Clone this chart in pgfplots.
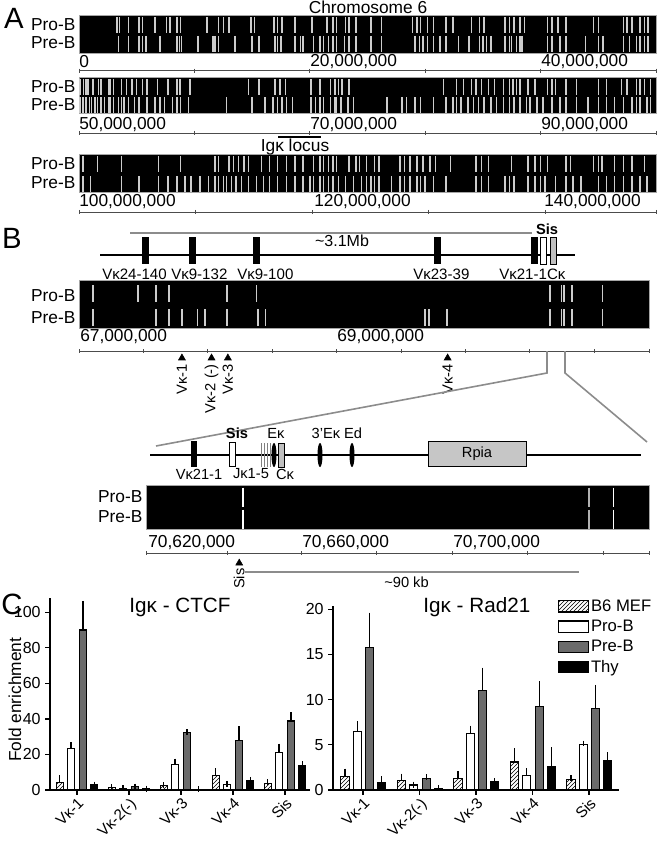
\documentclass[border=0pt]{standalone}
\usepackage{fontspec}
\setmainfont{Liberation Sans}
\usepackage{pgfplots}
\pgfplotsset{compat=1.18}
\usetikzlibrary{patterns}

\definecolor{preb}{gray}{0.42}
\definecolor{trk}{gray}{0.80}
\definecolor{gl}{gray}{0.55}
\newcommand{\fs}[1]{\fontsize{#1}{#1}\selectfont}

\pgfplotsset{
  trackax/.style={scale only axis, anchor=north west,
    axis background/.style={fill=black},
    axis line style={draw=gray!70, line width=0.5pt},
    xtick=\empty, ytick=\empty, ymin=0, ymax=2, clip=false},
  rowp/.style={only marks, mark=|, mark size=#1, color=trk, mark options={line width=1.1pt}},
  errs/.style={error bars/.cd, y dir=plus, y explicit,
    error bar style={line width=0.9pt, black},
    error mark options={line width=0.9pt, mark size=2.2pt, black}},
  barax/.style={scale only axis, anchor=north west, ybar, clip=false,
    axis lines*=left, axis line style={line width=1pt},
    tick align=outside, major tick length=3.5pt,
    every tick/.style={line width=1pt, black},
    xtick={0,...,4},
    xticklabels={Vκ-1, Vκ-2(-), Vκ-3, Vκ-4, Sis},
    xticklabel style={rotate=45, anchor=north east, font=\fs{11.5}, inner sep=1pt},
    yticklabel style={font=\fs{12}},
    /pgf/number format/assume math mode=true,
    ymin=0},
  pmef/.style={draw=black, fill=white, line width=0.8pt, pattern=north east lines},
  ppro/.style={draw=black, fill=white, line width=0.8pt},
  ppre/.style={draw=black, fill=preb, line width=0.8pt},
  pthy/.style={draw=black, fill=black, line width=0.8pt},
}

\begin{document}
\begin{tikzpicture}
\useasboundingbox (0,0) rectangle (495.75pt,-630.75pt);

% ================= Panel A tracks =================
\begin{axis}[trackax, at={(59.25pt,-11.25pt)}, width=432.75pt, height=28.5pt, xmin=0, xmax=50]
\addplot[rowp=6pt] table[row sep=\\, y expr=1.46] {x\\3.3\\3.5\\4.3\\5.2\\5.5\\6.6\\7.6\\7.9\\8.5\\8.8\\11.1\\12.1\\12.5\\13.0\\14.9\\15.2\\16.9\\17.2\\17.6\\18.7\\20.2\\21.5\\22.0\\22.3\\23.1\\23.4\\24.0\\25.3\\26.2\\28.9\\29.3\\29.6\\30.2\\30.7\\31.8\\32.4\\34.0\\34.7\\35.1\\36.9\\37.3\\37.7\\38.2\\38.6\\40.6\\41.0\\41.5\\42.2\\44.6\\45.0\\47.2\\47.5\\47.9\\48.6\\49.0\\49.3\\};
\addplot[rowp=6pt] table[row sep=\\, y expr=0.48] {x\\3.4\\4.3\\5.2\\5.5\\5.8\\7.0\\8.5\\8.7\\8.9\\10.3\\11.6\\11.8\\12.1\\13.5\\15.0\\15.6\\17.0\\17.2\\17.5\\18.7\\19.2\\19.4\\20.3\\20.9\\21.2\\21.6\\22.0\\22.3\\23.0\\23.4\\24.0\\25.3\\26.2\\29.1\\29.5\\29.8\\30.2\\30.7\\31.3\\31.8\\32.9\\33.8\\34.7\\35.0\\35.3\\35.7\\36.9\\37.3\\37.5\\37.9\\38.2\\38.4\\40.6\\41.0\\41.7\\42.2\\43.9\\45.0\\45.4\\47.2\\47.7\\48.3\\48.6\\49.0\\49.3\\};
\end{axis}

\begin{axis}[trackax, at={(59.25pt,-57.75pt)}, width=432.75pt, height=27pt, xmin=50, xmax=100]
\addplot[rowp=5.8pt] table[row sep=\\, y expr=1.45] {x\\50.1\\50.4\\50.6\\50.8\\51.2\\51.7\\51.9\\52.6\\52.7\\53.0\\53.7\\54.1\\54.6\\55.0\\55.5\\55.9\\56.8\\57.7\\58.5\\58.7\\58.8\\59.6\\64.7\\65.6\\67.0\\67.4\\67.9\\70.1\\70.9\\71.8\\72.2\\72.5\\72.8\\73.4\\81.6\\82.7\\83.3\\84.0\\84.4\\84.9\\85.5\\86.0\\86.8\\87.3\\87.6\\87.9\\88.2\\88.9\\89.5\\90.6\\91.0\\91.3\\92.2\\93.1\\95.0\\95.7\\97.0\\97.5\\98.3\\98.6\\99.0\\99.5\\};
\addplot[rowp=5.8pt] table[row sep=\\, y expr=0.45] {x\\50.1\\50.3\\50.4\\50.6\\50.9\\51.1\\51.4\\51.6\\51.9\\52.2\\52.6\\52.7\\53.0\\53.4\\53.7\\53.9\\54.3\\54.8\\55.2\\55.9\\56.6\\57.0\\57.4\\58.1\\58.5\\58.8\\59.5\\62.8\\65.0\\66.1\\66.8\\67.2\\67.6\\68.0\\68.5\\70.1\\70.5\\70.9\\71.2\\71.8\\72.2\\72.3\\72.7\\73.3\\73.8\\76.7\\78.0\\78.4\\79.1\\79.6\\80.7\\81.8\\82.4\\82.7\\83.1\\83.7\\84.2\\84.6\\85.1\\85.7\\86.2\\86.8\\87.3\\87.7\\88.2\\88.8\\89.1\\89.7\\90.2\\91.0\\91.7\\92.2\\93.1\\94.1\\95.0\\95.7\\96.4\\97.2\\97.9\\98.3\\98.6\\99.2\\99.5\\};
\end{axis}

\begin{axis}[trackax, at={(59.25pt,-115.5pt)}, width=432.75pt, height=28.5pt, xmin=100, xmax=150]
\addplot[rowp=6pt] table[row sep=\\, y expr=1.47] {x\\100.3\\100.4\\101.6\\103.7\\106.9\\108.8\\111.8\\112.1\\113.0\\113.4\\113.8\\114.3\\114.7\\115.8\\116.5\\117.2\\118.0\\118.7\\119.4\\120.3\\120.9\\121.2\\121.6\\122.0\\122.3\\123.4\\124.0\\124.3\\124.9\\125.6\\126.0\\127.8\\128.2\\128.7\\129.3\\129.8\\130.4\\130.9\\132.2\\134.4\\134.9\\135.5\\137.5\\138.9\\139.5\\140.0\\140.6\\142.2\\142.6\\144.6\\145.0\\145.3\\146.4\\147.2\\147.9\\149.0\\};
\addplot[rowp=6pt] table[row sep=\\, y expr=0.42] {x\\100.3\\100.4\\101.0\\103.7\\105.2\\106.9\\107.7\\108.5\\109.2\\109.7\\110.5\\111.2\\111.8\\112.1\\112.5\\112.8\\113.2\\113.6\\114.1\\114.7\\115.4\\116.0\\116.5\\117.2\\118.0\\118.7\\119.4\\120.0\\120.3\\120.9\\121.2\\121.6\\122.0\\122.5\\123.1\\123.8\\124.5\\124.9\\125.3\\125.6\\126.0\\127.1\\127.8\\128.2\\128.7\\129.3\\129.6\\130.0\\130.7\\131.8\\134.4\\134.9\\135.5\\136.9\\137.3\\137.7\\138.9\\139.5\\140.0\\140.4\\141.3\\142.2\\142.8\\143.5\\145.0\\145.7\\146.4\\147.2\\147.9\\148.6\\149.2\\};
\end{axis}

% ================= Panel B top track =================
\begin{axis}[trackax, at={(59.25pt,-210pt)}, width=427.5pt, height=36pt, xmin=67, xmax=71.43]
\addplot[rowp=6.4pt] table[row sep=\\, y expr=1.42] {x\\67.11\\67.46\\67.60\\67.70\\68.15\\68.38\\70.66\\70.75\\70.77\\70.83\\71.07\\};
\addplot[rowp=6.4pt] table[row sep=\\, y expr=0.42] {x\\67.11\\67.60\\67.70\\67.80\\67.92\\67.98\\68.15\\68.39\\68.45\\69.69\\69.72\\69.86\\70.66\\70.75\\70.77\\70.83\\71.07\\};
\addplot[only marks, mark=triangle*, mark size=3pt, black] coordinates {(67.80,-1.25) (68.03,-1.25) (68.157,-1.25) (69.865,-1.25)};
\node[rotate=90, anchor=east, font=\fs{11}, inner sep=0pt] at (axis cs:67.80,-1.5) {Vκ-1};
\node[rotate=90, anchor=east, font=\fs{11}, inner sep=0pt] at (axis cs:68.03,-1.5) {Vκ-2 (-)};
\node[rotate=90, anchor=east, font=\fs{11}, inner sep=0pt] at (axis cs:68.157,-1.5) {Vκ-3};
\node[rotate=90, anchor=east, font=\fs{11}, inner sep=0pt] at (axis cs:69.865,-1.5) {Vκ-4};
\end{axis}

% ================= Panel B bottom track =================
\begin{axis}[trackax, at={(109.5pt,-363.75pt)}, width=377.25pt, height=33pt, xmin=70618.7, xmax=70752.5]
\addplot[rowp=7.2pt, color=white] table[row sep=\\, y expr=1.45] {x\\70644.5\\70743.1\\};
\addplot[rowp=7.2pt, color=white] table[row sep=\\, y expr=0.45] {x\\70644.5\\70743.1\\};
\addplot[rowp=7.2pt, color=gray!60] table[row sep=\\, y expr=1.45] {x\\70736.5\\};
\addplot[rowp=7.2pt, color=gray!60] table[row sep=\\, y expr=0.45] {x\\70736.5\\};
\addplot[only marks, mark=triangle*, mark size=3pt, black] coordinates {(70643.5,-1.55)};
\addplot[gl, line width=1.2pt] coordinates {(70645,-1.95) (70734,-1.95)};
\node[rotate=90, anchor=east, font=\fs{11}, inner sep=0pt] at (axis cs:70643.5,-1.78) {Sis};
\node[font=\fs{11}] at (axis cs:70688,-2.41) {\textasciitilde90 kb};
\end{axis}

% ================= Panel C : CTCF =================
\begin{axis}[barax, at={(37.5pt,-448.5pt)}, width=195pt, height=144pt, bar width=5.5pt,
  xmin=-0.52, xmax=4.48, ymax=108, ytick={0,20,...,100},
  ylabel={Fold enrichment}, ylabel style={font=\fs{13}, at={(axis description cs:-0.135,0.47)}, anchor=center}]
\addplot[pmef, bar shift=-13pt, errs] table[row sep=\\, x=x, y=y, y error=e] {x y e\\0 4.1 2.5\\1 1.5 0.3\\2 2.4 0.3\\3 7.9 2.8\\4 3.75 0.6\\};
\addplot[ppro, bar shift=-4.6pt, errs] table[row sep=\\, x=x, y=y, y error=e] {x y e\\0 23.5 1.8\\1 0.9 0\\2 14.6 1.4\\3 3.2 0.3\\4 21 3.4\\};
\addplot[ppre, bar shift=4.5pt, errs] table[row sep=\\, x=x, y=y, y error=e] {x y e\\0 90 14.7\\1 1.9 0\\2 32.3 0.3\\3 27.8 6.3\\4 38.8 3.2\\};
\addplot[pthy, bar shift=12.9pt, errs] table[row sep=\\, x=x, y=y, y error=e] {x y e\\0 2.8 0.2\\1 0.75 0\\2 0.4 0\\3 5.4 0.3\\4 13.5 1.1\\};
\node[font=\fs{15.5}] at (rel axis cs:0.5,0.953) {Igκ - CTCF};
\end{axis}

% ================= Panel C : Rad21 =================
\begin{axis}[barax, at={(249.75pt,-454.5pt)}, width=214.5pt, height=138pt, bar width=6.2pt,
  xmin=-0.531, xmax=4.531, ymax=20.35, ytick={0,5,...,20},
  legend style={at={(0.787,1.045)}, anchor=north west, draw=none, fill=none,
    font=\fs{12.5}, inner sep=0pt, row sep=2.6pt, cells={anchor=west},
    nodes={inner sep=1.2pt}},
  legend image code/.code={\draw[#1] (0pt,-4.2pt) rectangle (22.5pt,4.2pt);}]
\addplot[pmef, bar shift=-13.5pt, errs] table[row sep=\\, x=x, y=y, y error=e] {x y e\\0 1.5 0.55\\1 1.0 0.5\\2 1.3 0.45\\3 3.1 1.2\\4 1.2 0.1\\};
\addplot[ppro, bar shift=-4.3pt, errs] table[row sep=\\, x=x, y=y, y error=e] {x y e\\0 6.5 0.8\\1 0.55 0.05\\2 6.3 0.5\\3 1.6 0.5\\4 5.0 0.15\\};
\addplot[ppre, bar shift=5pt, errs] table[row sep=\\, x=x, y=y, y error=e] {x y e\\0 15.8 3.5\\1 1.3 0.1\\2 11.0 2.2\\3 9.2 2.5\\4 9.0 2.3\\};
\addplot[pthy, bar shift=14pt, errs] table[row sep=\\, x=x, y=y, y error=e] {x y e\\0 0.8 0.4\\1 0.2 0\\2 0.9 0.05\\3 2.6 1.8\\4 3.3 0.55\\};
\legend{B6 MEF, Pro-B, Pre-B, Thy}
\node[font=\fs{15.5}] at (rel axis cs:0.503,0.995) {Igκ - Rad21};
\end{axis}

% ================= Annotations in pixel units =================
\begin{scope}[x=0.75pt,y=-0.75pt]
% panel letters
\node[font=\fs{22}] at (14,18) {A};
\node[font=\fs{22}] at (12,238) {B};
\node[font=\fs{22}] at (12,604) {C};

% panel A texts
\node[font=\fs{13}] at (368,7) {Chromosome 6};
\foreach \yy/\tt in {25/Pro-B,43/Pre-B,87/Pro-B,105/Pre-B,164/Pro-B,183/Pre-B,296/Pro-B,318/Pre-B}
  \node[font=\fs{13}, anchor=east, inner sep=1pt] at (77,\yy) {\tt};
\node[font=\fs{13}, anchor=east, inner sep=1pt] at (144,497) {Pro-B};
\node[font=\fs{13}, anchor=east, inner sep=1pt] at (144,517) {Pre-B};

\foreach \xx/\tt in {79/0,310/{20,000,000},541/{40,000,000}}
  \node[font=\fs{13}, anchor=west, inner sep=0pt] at (\xx,62) {\tt};
\foreach \xx/\tt in {79/{50,000,000},310/{70,000,000},541/{90,000,000}}
  \node[font=\fs{13}, anchor=west, inner sep=0pt] at (\xx,125) {\tt};
\foreach \xx/\tt in {79/{100,000,000},314/{120,000,000},544/{140,000,000}}
  \node[font=\fs{13}, anchor=west, inner sep=0pt] at (\xx,202) {\tt};

% rulers panel A
\begin{scope}[gray!60!black, line width=0.6pt]
\draw (79,70.7) -- (656,70.7);
\foreach \t in {79,194.4,309.8,425.2,540.6,656} \draw (\t,68.7) -- (\t,72.7);
\draw (79,133) -- (656,133);
\foreach \t in {79,194.4,309.8,425.2,540.6,656} \draw (\t,131) -- (\t,135);
\draw (79,212) -- (656,212);
\foreach \t in {79,195.6,312.2,428.8,545.4,656} \draw (\t,210) -- (\t,214);
\end{scope}
\draw[line width=0.8pt] (278,137) -- (321,137);
\node[font=\fs{13}] at (295,147) {Igκ locus};

% panel B gene map (top)
\draw[gl, line width=1.2pt] (130,233) -- (532,233);
\node[font=\fs{12}] at (342,241) {\textasciitilde3.1Mb};
\node[font=\bfseries\fs{11}] at (547,229) {Sis};
\draw[line width=0.8pt] (100,255) -- (575,255);
\foreach \xx in {145.5,192,256.5,437.5,534} \fill (\xx-3.5,237) rectangle (\xx+3.5,264);
\draw[fill=white, line width=0.6pt] (540,237) rectangle (546,264);
\draw[fill=gray!50, line width=0.6pt] (550,237) rectangle (556,264);
\foreach \xx/\tt in {102/{Vκ24-140},171/{Vκ9-132},237/{Vκ9-100},413/{Vκ23-39},499/{Vκ21-1Cκ}}
  \node[font=\fs{11.3}, anchor=west, inner sep=0pt] at (\xx,274) {\tt};

% panel B ruler
\node[font=\fs{13}, anchor=west, inner sep=0pt] at (80,337) {67,000,000};
\node[font=\fs{13}, anchor=west, inner sep=0pt] at (337,337) {69,000,000};
\begin{scope}[gray!60!black, line width=0.6pt]
\draw (79,351) -- (649,351);
\foreach \t in {79,143.4,207.8,272.2,336.6,401,465.4,529.8,594.2,649} \draw (\t,349) -- (\t,353);
\end{scope}
% zoom connectors
\draw[gl, line width=1.2pt] (547,351) -- (547,373) -- (156,446);
\draw[gl, line width=1.2pt] (565,351) -- (565,373) -- (647,442);

% panel B gene map (bottom)
\draw[line width=0.8pt] (150,455) -- (641,455);
\fill (191,441) rectangle (197,467);
\draw[fill=white, line width=0.6pt] (229,442) rectangle (235,466);
\foreach \xx in {261,264,267,270} \draw[gray, line width=0.5pt] (\xx,443) -- (\xx,467);
\fill (274,455) ellipse [x radius=2.5, y radius=12];
\draw[fill=gray!50, line width=0.6pt] (278,443) rectangle (284,467);
\fill (320,455) ellipse [x radius=2.5, y radius=12];
\fill (352,455) ellipse [x radius=2.5, y radius=12];
\draw[fill=gray!45, line width=0.6pt] (428,441) rectangle (526,466);
\node[font=\fs{11}] at (477,453.5) {Rpia};
\node[font=\bfseries\fs{11}] at (237,433) {Sis};
\node[font=\fs{11}] at (276,433) {Eκ};
\node[font=\fs{11}] at (326,433) {3'Eκ};
\node[font=\fs{11}] at (353,433) {Ed};
\node[font=\fs{11}] at (199,474) {Vκ21-1};
\node[font=\fs{11}] at (251,474) {Jκ1-5};
\node[font=\fs{11}] at (285,474) {Cκ};

% bottom ruler
\node[font=\fs{13}, anchor=west, inner sep=0pt] at (148,543) {70,620,000};
\node[font=\fs{13}, anchor=west, inner sep=0pt] at (302,543) {70,660,000};
\node[font=\fs{13}, anchor=west, inner sep=0pt] at (453,543) {70,700,000};
\begin{scope}[gray!60!black, line width=0.6pt]
\draw (146,553) -- (649,553);
\foreach \t in {146,227.7,301.4,376.5,452,527,603,649} \draw (\t,551) -- (\t,555);
\end{scope}
\end{scope}
\end{tikzpicture}
\end{document}
